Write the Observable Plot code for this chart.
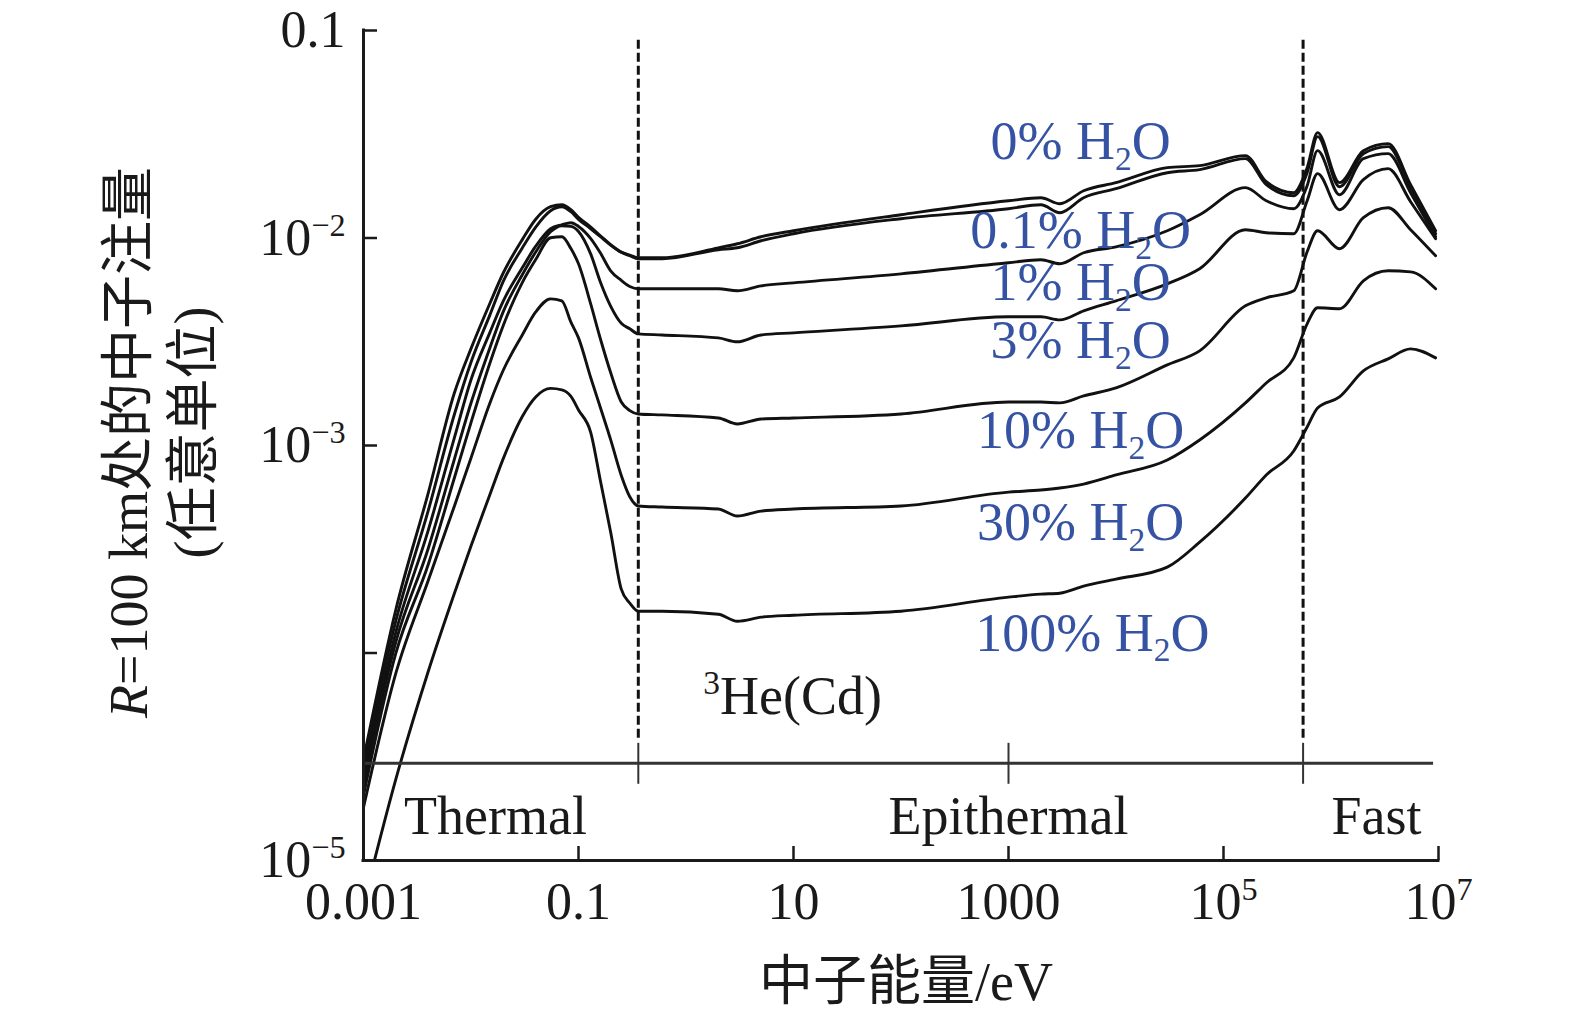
<!DOCTYPE html>
<html><head><meta charset="utf-8">
<script src="https://cdn.jsdelivr.net/npm/d3@7"></script>
<script src="https://cdn.jsdelivr.net/npm/@observablehq/plot@0.6"></script>
<style>body{margin:0;background:#fff}</style>
</head><body><div id="chart"></div>
<script>
// ---- data (neutron energy in eV, fluence in arbitrary units) ----
const energy = [0.001, 0.002, 0.004, 0.007, 0.01, 0.015, 0.02, 0.03, 0.04, 0.055, 0.07, 0.085, 0.1, 0.13, 0.16, 0.2, 0.25, 0.3, 0.36,
  0.6, 2, 3, 5, 10, 100, 1000, 2000, 3000, 5000, 1e4, 3e4, 6e4, 1.6e5, 2.5e5, 4.5e5, 6e5, 7.5e5, 1.2e6, 2e6, 3.4e6, 5.5e6, 9.4e6];

const h2o_0 = [3.07e-5, 1.62e-4, 5.90e-4, 1.79e-3, 2.93e-3, 4.85e-3, 6.80e-3, 9.82e-3, 1.232e-2, 1.415e-2, 1.446e-2, 1.369e-2, 1.258e-2, 1.128e-2, 1.025e-2, 9.26e-3, 8.55e-3, 8.27e-3, 8.03e-3,
  8.03e-3, 8.97e-3, 9.38e-3, 1.014e-2, 1.084e-2, 1.295e-2, 1.512e-2, 1.564e-2, 1.463e-2, 1.690e-2, 1.848e-2, 2.183e-2, 2.232e-2, 2.494e-2, 1.868e-2, 1.653e-2, 2.183e-2, 3.22e-2, 1.848e-2, 2.636e-2, 2.849e-2, 1.807e-2, 1.084e-2];
const h2o_01 = [2.81e-5, 1.43e-4, 4.85e-4, 1.41e-3, 2.52e-3, 4.26e-3, 6.20e-3, 8.95e-3, 1.129e-2, 1.354e-2, 1.415e-2, 1.339e-2, 1.230e-2, 1.108e-2, 1.014e-2, 9.23e-3, 8.53e-3, 8.22e-3, 7.94e-3,
  7.94e-3, 8.78e-3, 8.97e-3, 9.70e-3, 1.048e-2, 1.239e-2, 1.384e-2, 1.446e-2, 1.324e-2, 1.564e-2, 1.728e-2, 2.064e-2, 2.135e-2, 2.412e-2, 1.807e-2, 1.599e-2, 2.064e-2, 3.08e-2, 1.767e-2, 2.55e-2, 2.756e-2, 1.748e-2, 1.048e-2];
const h2o_1 = [2.54e-5, 1.26e-4, 3.90e-4, 1.089e-3, 2.075e-3, 3.51e-3, 4.98e-3, 7.18e-3, 9.13e-3, 1.108e-2, 1.158e-2, 1.185e-2, 1.137e-2, 9.93e-3, 8.46e-3, 6.92e-3, 6.25e-3, 5.84e-3, 5.69e-3,
  5.69e-3, 5.69e-3, 5.57e-3, 5.88e-3, 6.08e-3, 6.72e-3, 7.60e-3, 7.86e-3, 7.51e-3, 8.49e-3, 9.07e-3, 1.084e-2, 1.295e-2, 1.748e-2, 1.512e-2, 1.384e-2, 1.787e-2, 2.636e-2, 1.617e-2, 2.412e-2, 2.55e-2, 1.653e-2, 1.014e-2];
const h2o_3 = [2.30e-5, 1.132e-4, 3.19e-4, 8.58e-4, 1.602e-3, 2.96e-3, 4.43e-3, 6.65e-3, 8.56e-3, 1.072e-2, 1.146e-2, 1.138e-2, 1.075e-2, 8.36e-3, 6.12e-3, 4.67e-3, 3.88e-3, 3.65e-3, 3.45e-3,
  3.41e-3, 3.30e-3, 3.16e-3, 3.41e-3, 3.49e-3, 3.77e-3, 4.17e-3, 4.17e-3, 4.03e-3, 4.46e-3, 4.98e-3, 6.01e-3, 7.11e-3, 1.096e-2, 1.060e-2, 1.048e-2, 1.512e-2, 2.042e-2, 1.369e-2, 1.910e-2, 2.159e-2, 1.496e-2, 9.92e-3];
const h2o_10 = [2.06e-5, 9.98e-5, 2.67e-4, 6.97e-4, 1.290e-3, 2.50e-3, 3.80e-3, 6.10e-3, 7.87e-3, 1.003e-2, 1.014e-2, 8.89e-3, 7.51e-3, 4.80e-3, 3.26e-3, 2.228e-3, 1.621e-3, 1.472e-3, 1.419e-3,
  1.404e-3, 1.357e-3, 1.270e-3, 1.342e-3, 1.357e-3, 1.419e-3, 1.621e-3, 1.621e-3, 1.604e-3, 1.733e-3, 1.894e-3, 2.445e-3, 2.858e-3, 4.71e-3, 5.15e-3, 5.57e-3, 8.58e-3, 1.084e-2, 8.87e-3, 1.252e-2, 1.400e-2, 1.096e-2, 8.21e-3];
const h2o_30 = [1.80e-5, 7.99e-5, 2.234e-4, 5.10e-4, 8.71e-4, 1.604e-3, 2.311e-3, 3.41e-3, 4.40e-3, 5.09e-3, 4.98e-3, 3.93e-3, 3.30e-3, 2.120e-3, 1.520e-3, 1.058e-3, 7.17e-4, 5.66e-4, 5.11e-4,
  5.05e-4, 4.94e-4, 4.57e-4, 4.83e-4, 4.94e-4, 5.11e-4, 5.96e-4, 6.10e-4, 6.24e-4, 6.52e-4, 7.21e-4, 8.51e-4, 1.063e-3, 1.604e-3, 2.002e-3, 2.644e-3, 3.86e-3, 4.61e-3, 4.56e-3, 6.22e-3, 6.95e-3, 6.87e-3, 5.69e-3];
const h2o_100 = [6.20e-6, 2.467e-5, 8.15e-5, 1.936e-4, 3.28e-4, 5.81e-4, 8.67e-4, 1.380e-3, 1.714e-3, 1.884e-3, 1.853e-3, 1.723e-3, 1.483e-3, 1.155e-3, 6.74e-4, 3.78e-4, 2.030e-4, 1.738e-4, 1.590e-4,
  1.590e-4, 1.538e-4, 1.423e-4, 1.488e-4, 1.521e-4, 1.590e-4, 1.858e-4, 1.921e-4, 1.942e-4, 2.100e-4, 2.269e-4, 2.592e-4, 3.42e-4, 5.58e-4, 7.21e-4, 9.41e-4, 1.228e-3, 1.516e-3, 1.714e-3, 2.288e-3, 2.615e-3, 2.921e-3, 2.644e-3];

const seriesNames = ["0%", "0.1%", "1%", "3%", "10%", "30%", "100%"];
const seriesValues = [h2o_0, h2o_01, h2o_1, h2o_3, h2o_10, h2o_30, h2o_100];

// series labels
const labelText = ["0% H{_2}O", "0.1% H{_2}O", "1% H{_2}O", "3% H{_2}O", "10% H{_2}O", "30% H{_2}O", "100% H{_2}O"];
const labelE = [4680, 4680, 4680, 4680, 4680, 4680, 6040];
const labelV = [2.913e-2, 1.084e-2, 6.08e-3, 3.19e-3, 1.175e-3, 4.23e-4, 1.245e-4];

// ticks
const xTicks = [0.001, 0.1, 10, 1000, 1e5, 1e7];
const xTickLabels = ["0.001", "0.1", "10", "1000", "10{^5}", "10{^7}"];
const yTicks = [0.1, 0.01, 0.001, 1e-4, 1e-5];
const yTickLabels = ["0.1", "10{^\u22122}", "10{^\u22123}", "", "10{^\u22125}"];

// energy regions
const regionNames = ["Thermal", "Epithermal", "Fast"];
const regionE = [0.0169, 1000, 2.65e6];
const regionV = [1.63e-5, 1.63e-5, 1.63e-5];
const boundaries = [0.36, 5.5e5];
const regionTicks = [0.36, 1000, 5.5e5];
const bandLevel = 2.94e-5;
const bandEnd = 9e6;
const detectorLabel = "{^3}He(Cd)";
const detectorE = 9.8, detectorV = 6.18e-5;

// ---- build ----
const rows = seriesNames.flatMap((s, k) => energy.map((E, i) => ({E, v: seriesValues[k][i], s})));
const labels = labelText.map((t, i) => ({t, E: labelE[i], v: labelV[i]}));
const regions = regionNames.map((t, i) => ({t, E: regionE[i], v: regionV[i]}));
const xLab = xTicks.map((x, i) => ({x, t: xTickLabels[i]}));
const yLab = yTicks.map((y, i) => ({y, t: yTickLabels[i]})).filter(d => d.t);

const W = 1575, H = 1019, mL = 363, mR = 137, mT = 30, mB = 159;
const frameH = H - mT - mB, frameW = W - mL - mR;
const serif = "'Liberation Serif', 'Times New Roman', 'Noto Sans CJK SC', serif";
const ink = "#1a1a1a";

const chart = Plot.plot({
  width: W, height: H,
  marginLeft: mL, marginRight: mR, marginTop: mT, marginBottom: mB,
  style: {fontFamily: serif, background: "#fff", overflow: "visible"},
  x: {type: "log", domain: [1e-3, 1e7], axis: null},
  y: {type: "log", domain: [1e-5, 0.1], axis: null},
  marks: [
    // curves
    Plot.line(rows, {x: "E", y: "v", z: "s", stroke: "#111", strokeWidth: 2.9, curve: "monotone-x", clip: true}),
    // region band
    Plot.ruleY([bandLevel], {x1: 1e-3, x2: bandEnd, stroke: "#333", strokeWidth: 3}),
    Plot.ruleX(regionTicks, {y1: 2.33e-5, y2: 3.67e-5, stroke: "#333", strokeWidth: 2}),
    // boundaries
    Plot.ruleX(boundaries, {y1: 3.88e-5, y2: 0.0915, stroke: "#111", strokeWidth: 3, strokeDasharray: "9,4"}),
    // axes lines
    Plot.ruleX([1e-3], {y1: 1e-5, y2: 0.1, stroke: ink, strokeWidth: 3, strokeLinecap: "square"}),
    Plot.ruleY([1e-5], {x1: 1e-3, x2: 1e7, stroke: ink, strokeWidth: 3, strokeLinecap: "square"}),
    // tick marks (inward)
    Plot.tickX(xTicks.slice(1), {x: d => d, insetTop: frameH - 14, stroke: ink, strokeWidth: 2.5}),
    Plot.tickY(yTicks.slice(0, 4), {y: d => d, insetRight: frameW - 14, stroke: ink, strokeWidth: 2.5}),
    // tick labels
    Plot.text(xLab, {x: "x", text: "t", frameAnchor: "bottom", textAnchor: "middle", lineAnchor: "middle", dy: 42, fontSize: 52, fill: ink, fontFamily: serif}),
    Plot.text(yLab, {y: "y", text: "t", frameAnchor: "left", textAnchor: "end", lineAnchor: "middle", dx: -18, fontSize: 52, fill: ink, fontFamily: serif}),
    // series labels
    Plot.text(labels, {x: "E", y: "v", text: "t", fontSize: 54, fill: "#3653a3", fontFamily: serif}),
    // region labels
    Plot.text(regions, {x: "E", y: "v", text: "t", fontSize: 54, fill: ink, fontFamily: serif}),
    Plot.text([detectorLabel], {x: () => detectorE, y: () => detectorV, text: d => d, fontSize: 54, fill: ink, fontFamily: serif}),
    // axis titles
    Plot.text(["中子能量/eV"], {text: d => d, frameAnchor: "bottom", textAnchor: "middle", lineAnchor: "middle", dy: 122, dx: 5, fontSize: 54, fill: ink, fontFamily: serif}),
    Plot.text(["{*R}=100 km处的中子注量"], {text: d => d, frameAnchor: "left", textAnchor: "middle", lineAnchor: "middle", rotate: -90, dx: -234, dy: -3, fontSize: 54, fill: ink, fontFamily: serif}),
    Plot.text(["(任意单位)"], {text: d => d, frameAnchor: "left", textAnchor: "middle", lineAnchor: "middle", rotate: -90, dx: -169, dy: -13, fontSize: 54, fill: ink, fontFamily: serif})
  ]
});

document.getElementById("chart").appendChild(chart);

// rich text: {^sup}, {_sub}, {*italic}
function richText(root) {
  const NS = "http://www.w3.org/2000/svg";
  root.querySelectorAll("text").forEach(t => {
    const s = t.textContent;
    if (!/\{[\^_*]/.test(s)) return;
    const F = parseFloat(getComputedStyle(t).fontSize) || 50;
    const parts = s.split(/(\{[\^_*][^}]*\})/).filter(p => p.length);
    t.textContent = "";
    let cur = 0;
    for (const p of parts) {
      let off = 0, txt = p, small = false, italic = false;
      if (p.startsWith("{^")) { off = -0.36 * F; txt = p.slice(2, -1); small = true; }
      else if (p.startsWith("{_")) { off = 0.2 * F; txt = p.slice(2, -1); small = true; }
      else if (p.startsWith("{*")) { txt = p.slice(2, -1); italic = true; }
      const ts = document.createElementNS(NS, "tspan");
      const d = off - cur;
      if (d !== 0) ts.setAttribute("dy", d + "px");
      if (small) ts.setAttribute("font-size", (0.62 * F) + "px");
      if (italic) ts.setAttribute("font-style", "italic");
      ts.textContent = txt;
      t.appendChild(ts);
      cur = off;
    }
  });
}
richText(chart);
</script></body></html>
